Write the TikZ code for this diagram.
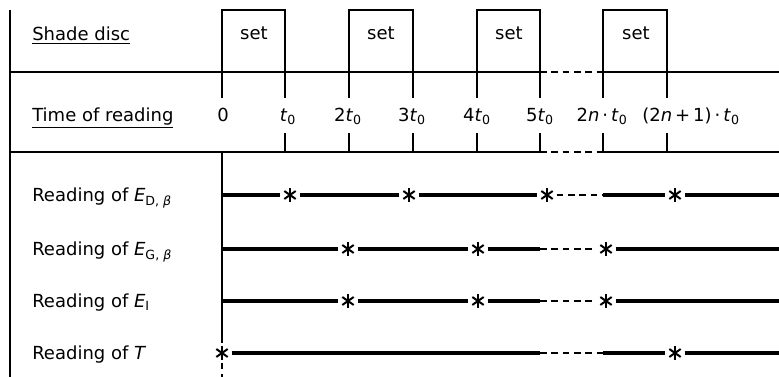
\documentclass[tikz,border=0pt]{standalone}
\usepackage{fontspec}
\setmainfont{DejaVu Sans}
\usetikzlibrary{positioning}
\newcommand{\tzero}{\textit{t}\textsubscript{0}}
\tikzset{
  frameline/.style={line width=1.5pt},
  rowline/.style={line width=2.3pt},
  gapline/.style={line width=1.4pt, dash pattern=on 5pt off 3.5pt},
  astk/.style={circle, minimum size=14pt, inner sep=0pt,
    path picture={
      \foreach \a/\b in {90/270,35/215,145/325}
        \draw[line width=1.5pt]
          ([shift={(\a:5.2pt)}]path picture bounding box.center) --
          ([shift={(\b:5.2pt)}]path picture bounding box.center);
    }},
}

\begin{document}
\begin{tikzpicture}[x=0.75pt,y=-0.75pt,
  every node/.style={font=\fontsize{13.5pt}{16pt}\selectfont, inner sep=0pt}]
  \useasboundingbox (0,0) rectangle (779,377);

  % time points on the two grid lines
  \foreach \i/\x in {0/222,1/285,2/349,3/413,4/477,5/540,6/603,7/667}{
    \coordinate (c\i) at (\x,72);
    \coordinate (b\i) at (\x,152);
  }
  \coordinate (topleft) at (10,10);
  \coordinate (footleft) at (10,377);
  \coordinate (aleft) at (10,72);
  \coordinate (bleft) at (10,152);
  \coordinate (aright) at (779,72);
  \coordinate (bright) at (779,152);
  \coordinate (foot) at (222,377);

  % frame
  \draw[frameline] (topleft) -- (footleft);
  \draw[frameline] (aleft) -- (c5) (c6) -- (aright);
  \draw[frameline] (bleft) -- (b5) (b6) -- (bright);
  \draw[gapline] (c5) -- (c6);
  \draw[gapline] (b5) -- (b6);

  % shade disc
  \foreach \i/\j in {0/1,2/3,4/5,6/7}
    \draw[frameline] (c\i) -- ++(0,-62) -| (c\j);
  \foreach \x/\k in {254/1,381/2,509/3,636/4}
    \node[anchor=base] (set\k) at (\x,40) {set};
  \node[anchor=base west] (shade) at (32,41) {\underline{Shade disc}};

  % time of reading
  \foreach \i in {1,...,7}{
    \draw[frameline] (c\i) -- ++(0,26);
    \draw[frameline] (b\i) -- ++(0,-19);
  }
  \draw[frameline] (c0) -- ++(0,26);
  \node[anchor=base west] (timeof) at (32,122) {\underline{Time of reading}};
  \node[anchor=base] (l0) at (223,122) {0};
  \node[anchor=base] (l1) at (288,122) {\tzero};
  \node[anchor=base] (l2) at (348,122) {2\tzero};
  \node[anchor=base] (l3) at (412,122) {3\tzero};
  \node[anchor=base] (l4) at (477,122) {4\tzero};
  \node[anchor=base] (l5) at (540,122) {5\tzero};
  \node[anchor=base] (l6) at (602,122) {2\textit{n}\,·\,\tzero};
  \node[anchor=base] (l7) at (691,122) {(2\textit{n}\,+\,1)\,·\,\tzero};

  % readings
  \coordinate (yD) at (0,195);
  \coordinate (yG) at (0,249);
  \coordinate (yI) at (0,301);
  \coordinate (yT) at (0,353);
  \node[anchor=base west] (rD) at (32,202) {Reading of \textit{E}\textsubscript{D, \textit{β}}};
  \node[anchor=base west] (rG) at (32,256) {Reading of \textit{E}\textsubscript{G, \textit{β}}};
  \node[anchor=base west] (rI) at (32,308) {Reading of \textit{E}\textsubscript{I}};
  \node[anchor=base west] (rT) at (32,360) {Reading of \textit{T}};

  \node[astk] (sD1) at (290,195) {};
  \node[astk] (sD2) at (409,195) {};
  \node[astk] (sD3) at (547,195) {};
  \node[astk] (sD4) at (675,195) {};
  \node[astk] (sG1) at (348,249) {};
  \node[astk] (sG2) at (478,249) {};
  \node[astk] (sG3) at (606,249) {};
  \node[astk] (sI1) at (348,301) {};
  \node[astk] (sI2) at (478,301) {};
  \node[astk] (sI3) at (606,301) {};
  \node[astk] (sT0) at (222,353) {};
  \node[astk] (sT1) at (675,353) {};

  \draw[frameline] (b0) -- (sT0);
  \draw[gapline] (sT0) -- (foot);

  \draw[rowline] (c0 |- yD) -- (sD1) -- (sD2) -- (sD3);
  \draw[gapline] (sD3) -- (c6 |- yD);
  \draw[rowline] (c6 |- yD) -- (sD4) -- (aright |- yD);

  \draw[rowline] (c0 |- yG) -- (sG1) -- (sG2) -- (c5 |- yG);
  \draw[gapline] (c5 |- yG) -- (sG3);
  \draw[rowline] (sG3) -- (aright |- yG);

  \draw[rowline] (c0 |- yI) -- (sI1) -- (sI2) -- (c5 |- yI);
  \draw[gapline] (c5 |- yI) -- (sI3);
  \draw[rowline] (sI3) -- (aright |- yI);

  \draw[rowline] (sT0) -- (c5 |- yT);
  \draw[gapline] (c5 |- yT) -- (c6 |- yT);
  \draw[rowline] (c6 |- yT) -- (sT1) -- (aright |- yT);
\end{tikzpicture}
\end{document}
